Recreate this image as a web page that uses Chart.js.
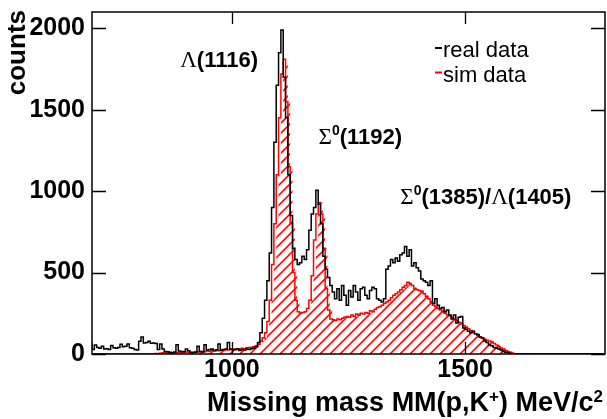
<!DOCTYPE html>
<html>
<head>
<meta charset="utf-8">
<script src="https://cdn.jsdelivr.net/npm/chart.js@4.4.1/dist/chart.umd.min.js"></script>
<style>
  html, body { margin: 0; padding: 0; background: #fff; }
  canvas { display: block; }
</style>
</head>
<body>
<canvas id="mmChart" width="607" height="419"></canvas>
<script>
// histogram binning (MeV/c^2)
const binStart = 700;
const binWidth = 5;

// real data, one row = 50 MeV (10 bins)
const realCounts = [
  70, 27, 55, 40, 35, 48, 30, 32, 28, 52,
  38, 36, 40, 60, 45, 48, 62, 38, 35, 27,
  25, 78, 104, 68, 70, 78, 66, 68, 65, 27,
  62, 30, 16, 14, 10, 8, 12, 57, 18, 15,
  14, 31, 20, 6, 8, 10, 47, 16, 12, 57,
  25, 27, 30, 22, 26, 61, 24, 27, 30, 71,
  31, 28, 26, 30, 22, 28, 25, 30, 27, 32,
  35, 45, 70, 130, 220, 330, 450, 620, 900, 1300,
  1650, 1850, 1990, 1700, 1450, 1100, 850, 650, 580, 550,
  560, 600, 580, 640, 760, 860, 900, 1005, 920, 800,
  600, 520, 470, 420, 380, 340, 400, 330, 420, 360,
  300, 390, 350, 420, 380, 330, 400, 410, 360, 340,
  390, 410, 400, 340, 330, 320, 340, 520, 540, 580,
  560, 590, 570, 610, 620, 660, 600, 640, 540, 560,
  530, 510, 460, 450, 440, 420, 450, 310, 340, 300,
  280, 285, 260, 270, 240, 215, 240, 190, 225, 230,
  160, 150, 140, 130, 140, 125, 120, 105, 100, 80,
  70, 55, 50, 40, 35, 30, 25, 15, 10, 8,
  3, 0, 0, 0, 0, 0, 0, 0, 0, 0,
  0, 0, 0, 0, 0, 0, 0, 0, 0, 0,
  0, 0, 0, 0, 0, 0, 0, 0, 0, 0,
  0, 0, 0, 0, 0, 0, 0, 0, 0, 0
];

// simulation, same binning
const simCounts = [
  0, 1, 0, 0, 1, 0, 0, 1, 0, 0,
  1, 0, 0, 1, 1, 0, 1, 0, 1, 1,
  0, 1, 1, 2, 1, 2, 1, 2, 3, 3,
  5, 8, 10, 6, 5, 6, 8, 7, 9, 8,
  10, 12, 9, 13, 11, 14, 12, 15, 16, 14,
  18, 16, 20, 18, 22, 20, 24, 22, 26, 25,
  28, 26, 30, 32, 30, 35, 33, 38, 40, 42,
  45, 50, 60, 80, 100, 130, 200, 330, 550, 800,
  1100, 1450, 1720, 1810, 1550, 1150, 800, 500, 330, 260,
  250, 255, 260, 280, 330, 480, 700, 860, 930, 860,
  650, 400, 270, 215, 210, 205, 215, 210, 220, 225,
  230, 225, 240, 230, 245, 240, 250, 245, 255, 250,
  265, 260, 275, 285, 290, 300, 310, 320, 330, 345,
  360, 370, 380, 395, 410, 420, 440, 430, 420, 400,
  395, 390, 385, 370, 355, 340, 320, 300, 290, 280,
  270, 260, 250, 240, 235, 225, 215, 205, 195, 185,
  175, 165, 155, 145, 135, 125, 115, 105, 95, 90,
  85, 80, 75, 65, 55, 45, 37, 30, 22, 15,
  10, 5, 2, 0, 0, 0, 0, 0, 0, 0,
  0, 0, 0, 0, 0, 0, 0, 0, 0, 0,
  0, 0, 0, 0, 0, 0, 0, 0, 0, 0,
  0, 0, 0, 0, 0, 0, 0, 0, 0, 0
];

const xTicks = [1000, 1500];
const yTicks = [0, 500, 1000, 1500, 2000];
const xRange = [700, 1800];
const yRange = [0, 2100];
const seriesNames = ['real data', 'sim data'];

// bin edges -> points for a stepped line
function toSteps(counts) {
  const pts = counts.map((c, i) => ({ x: binStart + i * binWidth, y: c }));
  pts.push({ x: binStart + counts.length * binWidth, y: counts[counts.length - 1] });
  return pts;
}

const BOLD = '"Liberation Sans", Arial, sans-serif';
const GREEK = '"Liberation Serif", "Times New Roman", serif';

// draw a run of text pieces (font / raised) from x
function drawRich(ctx, parts, x, y, align) {
  let w = 0;
  parts.forEach(p => { ctx.font = p.font; w += ctx.measureText(p.t).width; });
  let cx = align === 'right' ? x - w : x;
  parts.forEach(p => {
    ctx.font = p.font;
    ctx.fillText(p.t, cx, y - (p.up || 0));
    cx += ctx.measureText(p.t).width;
  });
}

const txt = (t) => ({ t, font: 'bold 22px ' + BOLD });
const grk = (t) => ({ t, font: '23px ' + GREEK });
const sup = (t, size) => ({ t, font: 'bold ' + (size || 14) + 'px ' + BOLD, up: 9 });

// peak labels, anchored in data coordinates
const peakLabels = [
  { x: 889, y: 1764, align: 'left', parts: [grk('\u039B'), txt('(1116)')] },
  { x: 1365, y: 1287, align: 'right', parts: [grk('\u03A3'), sup('0'), txt('(1192)')] },
  { x: 1361, y: 920, align: 'left', parts: [grk('\u03A3'), sup('0'), txt('(1385)/'), grk('\u039B'), txt('(1405)')] }
];

// red /// hatching under the sim histogram (ROOT fill style 3004)
const hatchPlugin = {
  id: 'simHatch',
  beforeDatasetsDraw(chart) {
    const meta = chart.getDatasetMeta(1);
    const pts = meta.data;
    if (!pts.length) return;
    const ctx = chart.ctx;
    const a = chart.chartArea;
    const base = chart.scales.y.getPixelForValue(0);
    ctx.save();
    ctx.beginPath();
    ctx.rect(a.left, a.top, a.right - a.left, a.bottom - a.top);
    ctx.clip();
    ctx.beginPath();
    ctx.moveTo(pts[0].x, base);
    for (let i = 0; i < pts.length; i++) {
      ctx.lineTo(pts[i].x, pts[i].y);
      if (i + 1 < pts.length) ctx.lineTo(pts[i + 1].x, pts[i].y);
    }
    ctx.lineTo(pts[pts.length - 1].x, base);
    ctx.closePath();
    ctx.clip();
    ctx.strokeStyle = '#ff0000';
    ctx.lineWidth = 1.6;
    ctx.beginPath();
    const h = a.bottom - a.top;
    for (let k = -h; k < a.right - a.left; k += 10) {
      ctx.moveTo(a.left + k, a.bottom);
      ctx.lineTo(a.left + k + h, a.top);
    }
    ctx.stroke();
    ctx.restore();
  }
};

const framePlugin = {
  id: 'rootFrame',
  afterDraw(chart) {
    const ctx = chart.ctx;
    const a = chart.chartArea;
    const xs = chart.scales.x, ys = chart.scales.y;
    ctx.save();
    ctx.strokeStyle = '#000';
    ctx.lineWidth = 1.5;
    ctx.strokeRect(a.left, a.top, a.right - a.left, a.bottom - a.top);

    // ticks pointing into the frame
    ctx.beginPath();
    yTicks.forEach(v => {
      const py = Math.round(ys.getPixelForValue(v)) + 0.5;
      ctx.moveTo(a.left, py); ctx.lineTo(a.left + 14, py);
      ctx.moveTo(a.right, py); ctx.lineTo(a.right - 14, py);
    });
    xTicks.forEach(v => {
      const px = Math.round(xs.getPixelForValue(v)) + 0.5;
      ctx.moveTo(px, a.bottom); ctx.lineTo(px, a.bottom - 12);
      ctx.moveTo(px, a.top); ctx.lineTo(px, a.top + 12);
    });
    ctx.lineWidth = 1.3;
    ctx.stroke();

    ctx.fillStyle = '#000';
    ctx.textBaseline = 'alphabetic';
    ctx.textAlign = 'left';

    // y title
    ctx.save();
    ctx.translate(25, 10);
    ctx.rotate(-Math.PI / 2);
    ctx.textAlign = 'right';
    ctx.font = 'bold 26px ' + BOLD;
    ctx.fillText('counts', 0, 0);
    ctx.restore();

    // x title
    ctx.textAlign = 'left';
    drawRich(ctx, [
      { t: 'Missing mass MM(p,K', font: 'bold 27px ' + BOLD },
      sup('+', 17),
      { t: ') MeV/c', font: 'bold 27px ' + BOLD },
      sup('2', 17)
    ], 603, 411, 'right');

    // peak labels
    peakLabels.forEach(l => {
      drawRich(ctx, l.parts, xs.getPixelForValue(l.x), ys.getPixelForValue(l.y), l.align);
    });

    // legend
    const legendColors = ['#000000', '#ff0000'];
    seriesNames.forEach((name, i) => {
      const by = 57 + i * 24.5;
      ctx.strokeStyle = legendColors[i];
      ctx.lineWidth = 2;
      ctx.beginPath();
      ctx.moveTo(435, by - 9); ctx.lineTo(442, by - 9);
      ctx.stroke();
      ctx.font = '22px ' + BOLD;
      ctx.fillStyle = '#000';
      ctx.fillText(name, 443, by);
    });
    ctx.restore();
  }
};

const ctx = document.getElementById('mmChart').getContext('2d');
const mmChart = new Chart(ctx, {
  type: 'line',
  data: {
    datasets: [{
      label: seriesNames[0],
      data: toSteps(realCounts),
      stepped: 'after',
      borderColor: '#000000',
      borderWidth: 1.5,
      pointRadius: 0,
      fill: false,
      order: 0
    }, {
      label: seriesNames[1],
      data: toSteps(simCounts),
      stepped: 'after',
      borderColor: '#ff0000',
      borderWidth: 1.5,
      backgroundColor: 'rgba(0,0,0,0)',
      pointRadius: 0,
      fill: false,
      order: 1
    }]
  },
  options: {
    responsive: false,
    animation: false,
    events: [],
    layout: { padding: { left: 0, top: 12, right: 2, bottom: 0 } },
    scales: {
      x: {
        type: 'linear',
        min: xRange[0],
        max: xRange[1],
        grid: { display: false, drawTicks: false },
        border: { display: false },
        afterBuildTicks: (s) => { s.ticks = xTicks.map(v => ({ value: v })); },
        afterFit: (s) => { s.height = 65; s.paddingLeft = 0; s.paddingRight = 0; },
        ticks: {
          color: '#000',
          padding: 1,
          maxRotation: 0,
          callback: (v) => String(v),
          font: { family: BOLD, weight: 'bold', size: 25 }
        }
      },
      y: {
        min: yRange[0],
        max: yRange[1],
        grid: { display: false, drawTicks: false },
        border: { display: false },
        afterBuildTicks: (s) => { s.ticks = yTicks.map(v => ({ value: v })); },
        afterFit: (s) => { s.width = 92; s.paddingTop = 0; s.paddingBottom = 0; },
        ticks: {
          color: '#000',
          padding: 7,
          callback: (v) => String(v),
          font: { family: BOLD, weight: 'bold', size: 25 }
        }
      }
    },
    plugins: {
      legend: { display: false },
      tooltip: { enabled: false }
    }
  },
  plugins: [hatchPlugin, framePlugin]
});
</script>
</body>
</html>
